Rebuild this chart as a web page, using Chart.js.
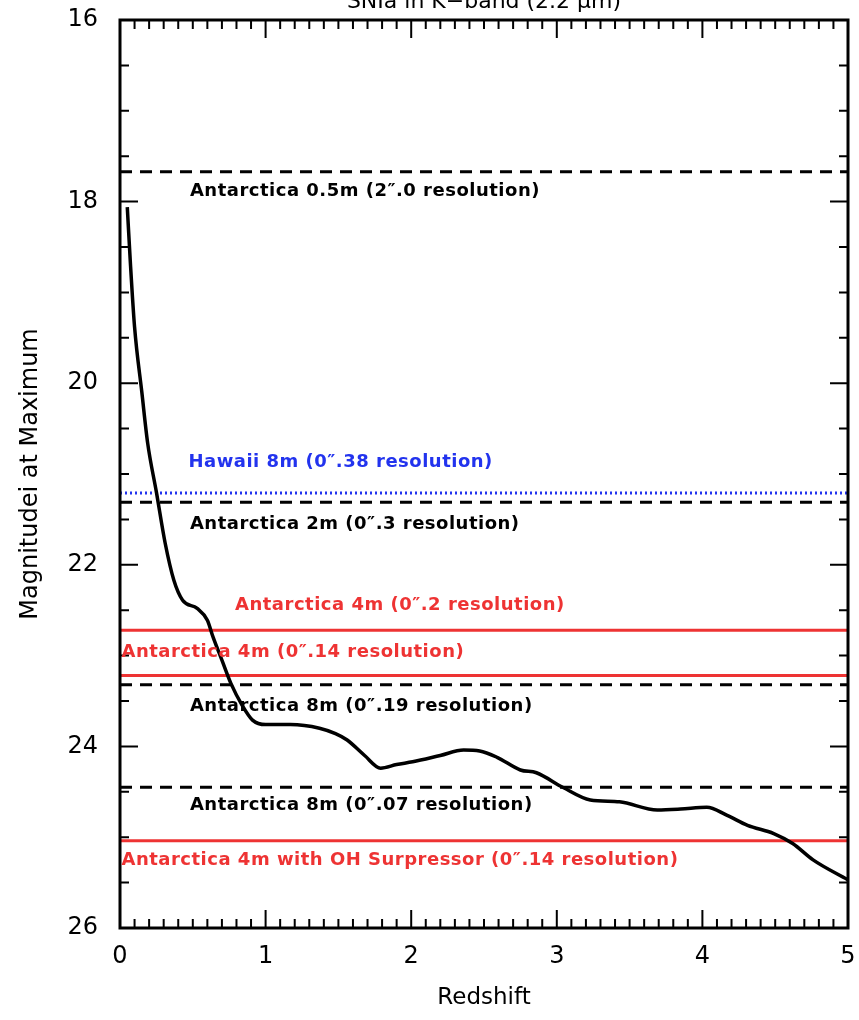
<!DOCTYPE html>
<html>
<head>
<meta charset="utf-8">
<script src="https://cdn.jsdelivr.net/npm/chart.js@4.4.1/dist/chart.umd.min.js"></script>
<style>
  body { margin: 0; background: #fff; }
  canvas { display: block; }
</style>
</head>
<body>
<canvas id="chart" width="859" height="1020"></canvas>
<script>
// SNIa peak magnitude vs redshift
const redshift = [0.05, 0.07, 0.10, 0.15, 0.19, 0.25, 0.31, 0.37, 0.43, 0.53, 0.60, 0.64, 0.70, 0.76, 0.84, 0.91,
  1.00, 1.17, 1.37, 1.48, 1.56, 1.68, 1.79, 1.90, 2.01, 2.20, 2.36, 2.47, 2.59, 2.75, 2.86, 3.04, 3.23, 3.43,
  3.69, 3.85, 4.03, 4.17, 4.31, 4.49, 4.62, 4.76, 5.00];
const magnitude = [18.06, 18.64, 19.38, 20.10, 20.66, 21.20, 21.76, 22.17, 22.39, 22.48, 22.61, 22.80, 23.05, 23.30, 23.55, 23.71,
  23.76, 23.76, 23.80, 23.86, 23.93, 24.10, 24.24, 24.20, 24.17, 24.10, 24.04, 24.05, 24.12, 24.26, 24.29, 24.45, 24.59, 24.61,
  24.70, 24.69, 24.67, 24.76, 24.87, 24.96, 25.07, 25.25, 25.47];

// telescope limiting magnitudes
const limitNames = [
  'Antarctica 0.5m (2\u2033.0 resolution)',
  'Hawaii 8m (0\u2033.38 resolution)',
  'Antarctica 2m (0\u2033.3 resolution)',
  'Antarctica 4m (0\u2033.2 resolution)',
  'Antarctica 4m (0\u2033.14 resolution)',
  'Antarctica 8m (0\u2033.19 resolution)',
  'Antarctica 8m (0\u2033.07 resolution)',
  'Antarctica 4m with OH Surpressor (0\u2033.14 resolution)'
];
const limitValues = [17.67, 21.21, 21.31, 22.72, 23.22, 23.32, 24.45, 25.04];

// where each label sits (redshift, magnitude)
const labelX = [0.48, 0.47, 0.48, 0.79, 0.01, 0.48, 0.48, 0.01];
const labelY = [17.89, 20.87, 21.55, 22.45, 22.96, 23.56, 24.65, 25.25];

const xTicks = [0, 1, 2, 3, 4, 5];
const yTicks = [16, 18, 20, 22, 24, 26];

const dashed = { color: '#000', dash: [12, 8], width: 3 };
const dotted = { color: '#2233ee', dash: [2, 3], width: 3 };
const solidRed = { color: '#ee3333', dash: [], width: 3 };
const limitStyles = [dashed, dotted, dashed, solidRed, solidRed, dashed, dashed, solidRed];

const FONT = '"DejaVu Sans", sans-serif';

const limitSets = limitValues.map((v, i) => ({
  label: limitNames[i],
  data: [{ x: 0, y: v }, { x: 5, y: v }],
  showLine: true,
  pointRadius: 0,
  borderColor: limitStyles[i].color,
  borderDash: limitStyles[i].dash,
  borderWidth: limitStyles[i].width,
  order: 2
}));

// inward ticks on all four sides plus the frame
const frameTicks = {
  id: 'frameTicks',
  afterDatasetsDraw(chart) {
    const { ctx, chartArea: a, scales: { x, y } } = chart;
    ctx.save();
    ctx.strokeStyle = '#000';
    ctx.lineWidth = 2;
    ctx.beginPath();
    for (let i = 0; i <= 50; i++) {
      const px = x.getPixelForValue(i / 10);
      const len = i % 10 === 0 ? 18 : 9;
      ctx.moveTo(px, a.bottom); ctx.lineTo(px, a.bottom - len);
      ctx.moveTo(px, a.top); ctx.lineTo(px, a.top + len);
    }
    for (let i = 0; i <= 20; i++) {
      const py = y.getPixelForValue(16 + i * 0.5);
      const len = i % 4 === 0 ? 18 : 9;
      ctx.moveTo(a.left, py); ctx.lineTo(a.left + len, py);
      ctx.moveTo(a.right, py); ctx.lineTo(a.right - len, py);
    }
    ctx.stroke();
    ctx.lineWidth = 3;
    ctx.strokeRect(a.left, a.top, a.width, a.height);
    ctx.restore();
  }
};

// labels for the limit lines, and the clipped title
const limitLabels = {
  id: 'limitLabels',
  afterDraw(chart) {
    const { ctx, scales: { x, y } } = chart;
    ctx.save();
    ctx.font = '600 18px ' + FONT;
    ctx.letterSpacing = '0.5px';
    ctx.textBaseline = 'middle';
    ctx.textAlign = 'left';
    limitNames.forEach((name, i) => {
      ctx.fillStyle = limitStyles[i].color;
      ctx.fillText(name, x.getPixelForValue(labelX[i]), y.getPixelForValue(labelY[i]));
    });
    ctx.letterSpacing = '0px';
    ctx.fillStyle = '#000';
    ctx.font = '22px ' + FONT;
    ctx.textAlign = 'center';
    ctx.textBaseline = 'alphabetic';
    ctx.fillText('SNIa in K\u2212band (2.2 \u03bcm)', 484, 8);
    ctx.restore();
  }
};

new Chart(document.getElementById('chart'), {
  type: 'scatter',
  data: {
    datasets: [{
      label: 'SNIa',
      data: redshift.map((z, i) => ({ x: z, y: magnitude[i] })),
      showLine: true,
      pointRadius: 0,
      borderColor: '#000',
      borderWidth: 3.5,
      cubicInterpolationMode: 'monotone',
      order: 1
    }, ...limitSets]
  },
  options: {
    responsive: false,
    animation: false,
    layout: { padding: { top: 20, right: 11, left: 0, bottom: 0 } },
    plugins: { legend: { display: false }, tooltip: { enabled: false } },
    scales: {
      x: {
        type: 'linear', min: 0, max: 5,
        grid: { display: false, drawTicks: false },
        border: { display: false },
        afterBuildTicks: s => { s.ticks = xTicks.map(v => ({ value: v })); },
        afterFit: s => { s.height = 92; s.paddingLeft = 0; s.paddingRight = 0; },
        ticks: { color: '#000', padding: 14, font: { family: FONT, size: 24 } },
        title: { display: true, text: 'Redshift', color: '#000', padding: { top: 0, bottom: 8 }, font: { family: FONT, size: 23 } }
      },
      y: {
        type: 'linear', min: 16, max: 26, reverse: true,
        grid: { display: false, drawTicks: false },
        border: { display: false },
        afterBuildTicks: s => { s.ticks = yTicks.map(v => ({ value: v })); },
        afterFit: s => { s.width = 120; s.paddingTop = 0; s.paddingBottom = 0; },
        ticks: { color: '#000', padding: 22, font: { family: FONT, size: 24 } },
        title: { display: true, text: 'Magnitudei at Maximum', color: '#000', padding: { top: 16, bottom: 4 }, font: { family: FONT, size: 24 } }
      }
    }
  },
  plugins: [frameTicks, limitLabels]
});
</script>
</body>
</html>
